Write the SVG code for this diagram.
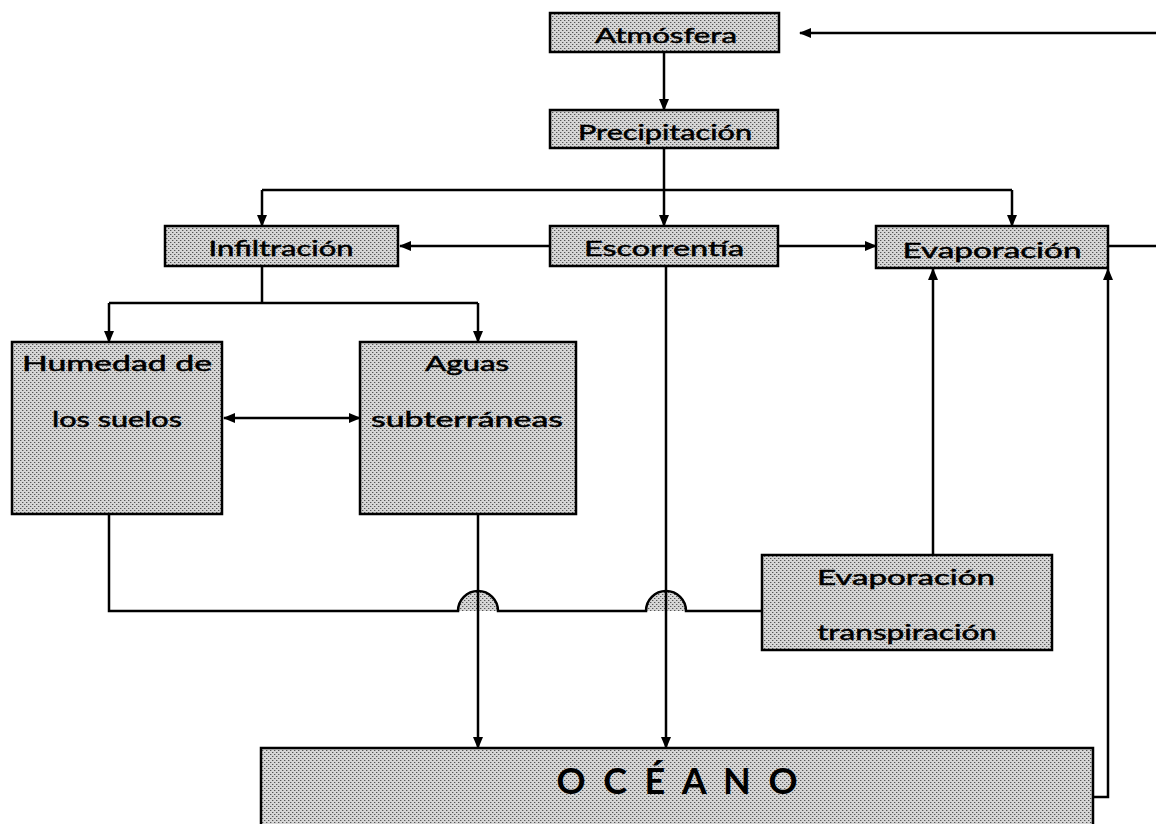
<svg xmlns="http://www.w3.org/2000/svg" width="1156" height="824" viewBox="0 0 1156 824">
<defs>
<pattern id="dot" width="4" height="4" patternUnits="userSpaceOnUse">
<rect width="4" height="4" fill="#d6d6d6"/>
<rect x="0" y="0" width="1" height="1" fill="#555"/>
<rect x="2" y="2" width="1" height="1" fill="#555"/>
<rect x="1" y="0" width="1" height="1" fill="#aaa"/>
<rect x="3" y="2" width="1" height="1" fill="#aaa"/>
</pattern>
<marker id="ah" markerWidth="12" markerHeight="10" refX="11" refY="5" orient="auto-start-reverse" markerUnits="userSpaceOnUse">
<path d="M0,0 L12,5 L0,10 Z" fill="#000"/>
</marker>
<style>
.box{fill:url(#dot);stroke:#000;stroke-width:2.5}
.t{font-family:"Lato","DejaVu Sans",sans-serif;font-size:21px;fill:#000;stroke:#000;stroke-width:0.5;text-anchor:middle}
.o{font-family:"Lato","DejaVu Sans",sans-serif;font-size:36px;font-weight:bold;fill:#000;text-anchor:middle}
.c{fill:none;stroke:#000;stroke-width:2.5}
.ca{fill:none;stroke:#000;stroke-width:2.5;marker-end:url(#ah)}
</style>
</defs>
<g id="connectors">
<path class="ca" d="M1156,33 H800"/>
<path class="ca" d="M664,52 V110"/>
<path class="c" d="M664,148 V190 M262,190 H1012"/>
<path class="ca" d="M262,190 V226"/>
<path class="ca" d="M664,190 V226"/>
<path class="ca" d="M1012,190 V226"/>
<path class="ca" d="M550,246 H400"/>
<path class="ca" d="M778,246 H876"/>
<path class="c" d="M1108,246 H1156"/>
<path class="c" d="M262,266 V303 M109,303 H478"/>
<path class="ca" d="M109,303 V342"/>
<path class="ca" d="M478,303 V342"/>
<path class="ca" d="M224,418 H360" style="marker-start:url(#ah)"/>
<path d="M458,611 A20,20 0 0 1 498,611 Z" fill="url(#dot)"/>
<path d="M646,611 A20,20 0 0 1 686,611 Z" fill="url(#dot)"/>
<path class="c" d="M109,514 V611 H458 A20,20 0 0 1 498,611 H646 A20,20 0 0 1 686,611 H762"/>
<path class="ca" d="M478,514 V748"/>
<path class="ca" d="M666,266 V748"/>
<path class="ca" d="M933,555 V269"/>
<path class="ca" d="M1093,797 H1108 V269"/>
</g>
<g id="atmosfera"><rect class="box" x="550" y="13" width="229" height="39"/><text class="t" x="666" y="43" textLength="142" lengthAdjust="spacingAndGlyphs">Atmósfera</text></g>
<g id="precipitacion"><rect class="box" x="550" y="110" width="228" height="38"/><text class="t" x="665" y="140" textLength="174" lengthAdjust="spacingAndGlyphs">Precipitación</text></g>
<g id="infiltracion"><rect class="box" x="165" y="226" width="233" height="40"/><text class="t" x="281" y="256" textLength="145" lengthAdjust="spacingAndGlyphs">Infiltración</text></g>
<g id="escorrentia"><rect class="box" x="550" y="226" width="228" height="40"/><text class="t" x="664" y="256" textLength="160" lengthAdjust="spacingAndGlyphs">Escorrentía</text></g>
<g id="evaporacion"><rect class="box" x="876" y="226" width="232" height="42"/><text class="t" x="992" y="258" textLength="179" lengthAdjust="spacingAndGlyphs">Evaporación</text></g>
<g id="humedad"><rect class="box" x="12" y="342" width="210" height="172"/><text class="t" x="117" y="371" textLength="190" lengthAdjust="spacingAndGlyphs">Humedad de</text><text class="t" x="117" y="427" textLength="130" lengthAdjust="spacingAndGlyphs">los suelos</text></g>
<g id="aguas"><rect class="box" x="360" y="342" width="216" height="172"/><text class="t" x="467" y="371" textLength="84" lengthAdjust="spacingAndGlyphs">Aguas</text><text class="t" x="467" y="427" textLength="192" lengthAdjust="spacingAndGlyphs">subterráneas</text></g>
<g id="evapotranspiracion"><rect class="box" x="762" y="555" width="290" height="95"/><text class="t" x="906" y="585" textLength="178" lengthAdjust="spacingAndGlyphs">Evaporación</text><text class="t" x="907" y="640" textLength="180" lengthAdjust="spacingAndGlyphs">transpiración</text></g>
<g id="oceano"><rect class="box" x="261" y="748" width="832" height="90"/><text class="o" x="677" y="794" textLength="241" lengthAdjust="spacing">O C É A N O</text></g>
</svg>
